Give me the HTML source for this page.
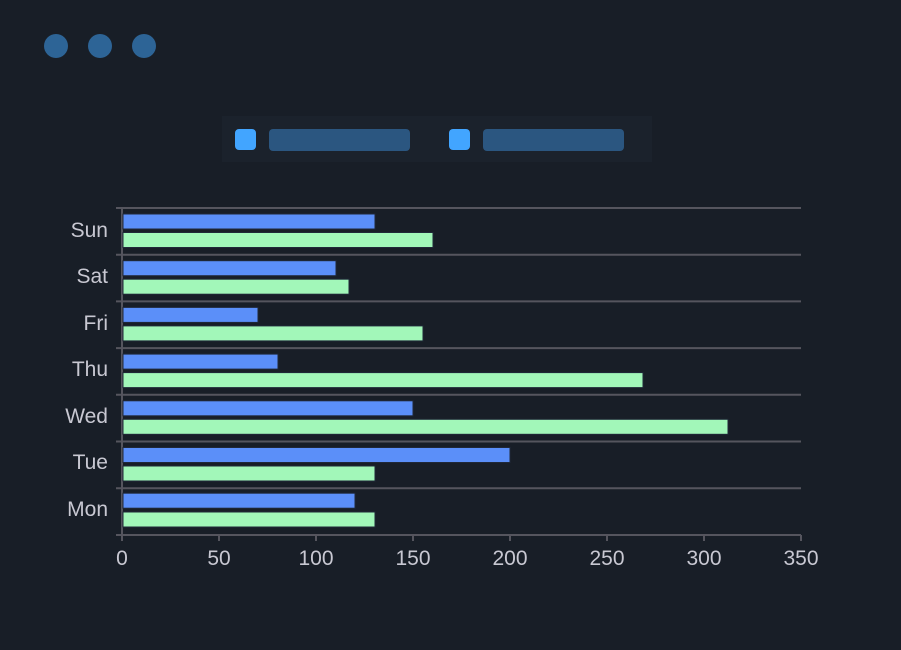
<!DOCTYPE html>
<html><head><style>body{margin:0;background:#181e27;}</style></head><body>
<svg width="901" height="645" xmlns="http://www.w3.org/2000/svg" font-family="Liberation Sans, sans-serif">
<rect width="901" height="645" fill="#181e27"/>
<circle cx="56" cy="46" r="12" fill="#2d6496"/>
<circle cx="100" cy="46" r="12" fill="#2d6496"/>
<circle cx="144" cy="46" r="12" fill="#2d6496"/>
<rect x="222" y="116" width="430" height="46" fill="#1b222c"/>
<rect x="235" y="129" width="21" height="21" rx="4" fill="#42a5ff"/>
<rect x="269" y="129" width="141" height="22" rx="4" fill="#2b5680"/>
<rect x="449" y="129" width="21" height="21" rx="4" fill="#42a5ff"/>
<rect x="483" y="129" width="141" height="22" rx="4" fill="#2b5680"/>
<g stroke="#55555e" stroke-width="2">
<line x1="116" y1="208" x2="801" y2="208"/><line x1="116" y1="254.7" x2="801" y2="254.7"/>
<line x1="116" y1="301.4" x2="801" y2="301.4"/><line x1="116" y1="348.1" x2="801" y2="348.1"/>
<line x1="116" y1="394.8" x2="801" y2="394.8"/><line x1="116" y1="441.5" x2="801" y2="441.5"/>
<line x1="116" y1="488.2" x2="801" y2="488.2"/><line x1="116" y1="535" x2="801" y2="535"/>
<line x1="122" y1="208" x2="122" y2="535"/>
<line x1="122" y1="535" x2="122" y2="541"/><line x1="219" y1="535" x2="219" y2="541"/>
<line x1="316" y1="535" x2="316" y2="541"/><line x1="413" y1="535" x2="413" y2="541"/>
<line x1="510" y1="535" x2="510" y2="541"/><line x1="607" y1="535" x2="607" y2="541"/>
<line x1="704" y1="535" x2="704" y2="541"/><line x1="801" y1="535" x2="801" y2="541"/>
</g>
<g fill="#5b8ff9" stroke="#202838" stroke-width="1">
<rect x="123" y="214" width="252" height="15"/>
<rect x="123" y="260.7" width="213" height="15"/>
<rect x="123" y="307.4" width="135" height="15"/>
<rect x="123" y="354.1" width="155" height="15"/>
<rect x="123" y="400.8" width="290" height="15"/>
<rect x="123" y="447.5" width="387" height="15"/>
<rect x="123" y="493.2" width="232" height="15"/>
</g>
<g fill="#a2f7b9" stroke="#202838" stroke-width="1">
<rect x="123" y="232.5" width="310" height="15"/>
<rect x="123" y="279.2" width="226" height="15"/>
<rect x="123" y="325.9" width="300" height="15"/>
<rect x="123" y="372.6" width="520" height="15"/>
<rect x="123" y="419.3" width="605" height="15"/>
<rect x="123" y="466" width="252" height="15"/>
<rect x="123" y="512" width="252" height="15"/>
</g>
<g fill="#c8c8d2" font-size="21" text-anchor="end">
<text x="108" y="237">Sun</text><text x="108" y="283">Sat</text>
<text x="108" y="330">Fri</text><text x="108" y="376">Thu</text>
<text x="108" y="423">Wed</text><text x="108" y="469">Tue</text>
<text x="108" y="516">Mon</text>
</g>
<g fill="#c8c8d2" font-size="21" text-anchor="middle">
<text x="122" y="565">0</text><text x="219" y="565">50</text><text x="316" y="565">100</text>
<text x="413" y="565">150</text><text x="510" y="565">200</text><text x="607" y="565">250</text>
<text x="704" y="565">300</text><text x="801" y="565">350</text>
</g>
</svg>
</body></html>
